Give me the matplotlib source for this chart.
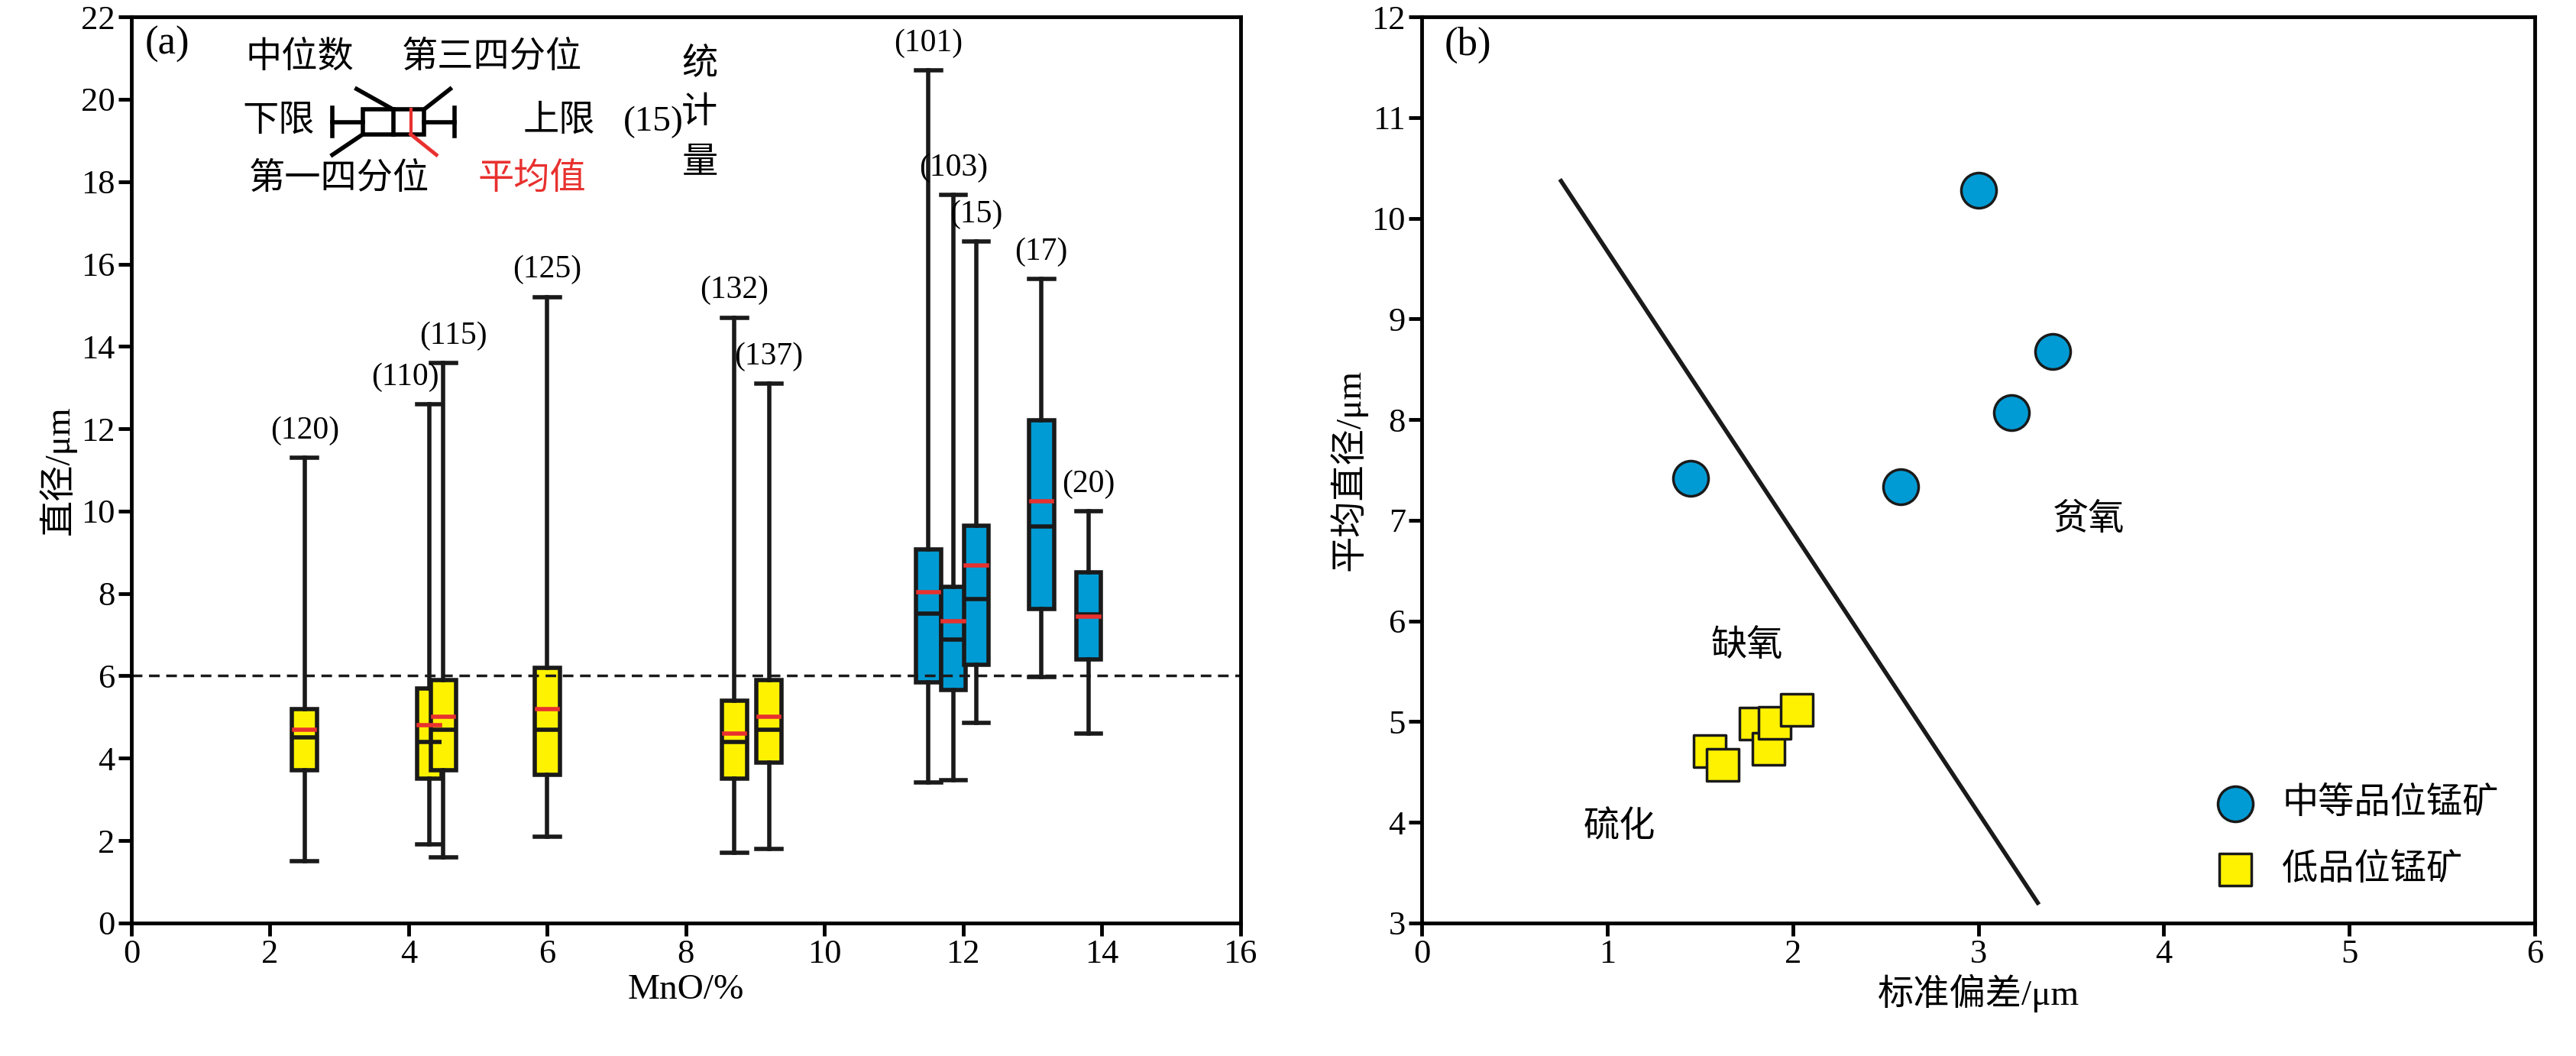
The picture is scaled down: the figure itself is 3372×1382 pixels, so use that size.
import matplotlib
matplotlib.use("Agg")
import matplotlib.pyplot as plt

plt.rcParams['font.family'] = ['Liberation Serif', 'Noto Sans CJK SC']
plt.rcParams['font.size'] = 34

# Panel (a) data
pos = [2.5, 4.3, 4.5, 6.0, 8.7, 9.2, 11.5, 11.86, 12.19, 13.13, 13.81]
wlo = [1.5, 1.9, 1.6, 2.1, 1.7, 1.8, 3.41, 3.46, 4.86, 5.98, 4.60]
q1 = [3.7, 3.5, 3.7, 3.6, 3.5, 3.9, 5.84, 5.66, 6.26, 7.62, 6.40]
med = [4.5, 4.4, 4.7, 4.7, 4.4, 4.7, 7.51, 6.88, 7.87, 9.63, 7.50]
q3 = [5.2, 5.7, 5.9, 6.2, 5.4, 5.9, 9.07, 8.17, 9.65, 12.2, 8.52]
whi = [11.3, 12.6, 13.6, 15.2, 14.7, 13.1, 20.7, 17.68, 16.54, 15.63, 9.99]
mean = [4.7, 4.8, 5.0, 5.2, 4.6, 5.0, 8.03, 7.32, 8.68, 10.23, 7.44]
counts = [120, 110, 115, 125, 132, 137, 101, 103, 15, 17, 20]
grade = ['low'] * 6 + ['mid'] * 5

# Panel (b) data
mid_sd = [1.45, 2.58, 3.0, 3.18, 3.4]
mid_mean = [7.42, 7.33, 10.28, 8.07, 8.68]
low_sd = [1.55, 1.62, 1.8, 1.87, 1.9, 2.02]
low_mean = [4.71, 4.57, 4.98, 4.73, 4.99, 5.12]
line_x = [0.75, 3.32]
line_y = [10.37, 3.2]

BLUE = '#009bd4'
YELLOW = '#fff200'
RED = '#e8312f'
LW = 4

fig = plt.figure(figsize=(33.72, 13.82), dpi=100)
ax1 = fig.add_axes([0.051, 0.126, 0.4305, 0.858])
ax2 = fig.add_axes([0.552, 0.126, 0.432, 0.858])

stats = []
for i in range(len(pos)):
    stats.append(dict(whislo=wlo[i], q1=q1[i], med=med[i], q3=q3[i], whishi=whi[i], mean=mean[i], fliers=[]))
bp = ax1.bxp(stats, positions=pos, widths=0.36, patch_artist=True, showmeans=False,
             boxprops=dict(linewidth=LW, edgecolor='#1a1a1a'),
             medianprops=dict(color='#1a1a1a', linewidth=LW),
             whiskerprops=dict(color='#1a1a1a', linewidth=LW),
             capprops=dict(color='#1a1a1a', linewidth=LW),
             capwidths=0.36, manage_ticks=False)
for p, g in zip(bp['boxes'], grade):
    p.set_facecolor(BLUE if g == 'mid' else YELLOW)
offs = {1: -0.35, 2: 0.15}
for i in range(len(pos)):
    ax1.plot([pos[i] - 0.15, pos[i] + 0.15], [mean[i], mean[i]], color=RED, lw=LW, zorder=5)
    ax1.text(pos[i] + offs.get(i, 0), whi[i] + 0.3, f'({counts[i]})', ha='center', va='bottom', fontsize=30)
ax1.axhline(6, color='#1a1a1a', ls='--', lw=2.5, dashes=(4, 2.5))
ax1.set_xlim(0, 16)
ax1.set_ylim(0, 22)
ax1.set_xticks(range(0, 17, 2))
ax1.set_yticks(range(0, 23, 2))
ax1.set_xlabel('MnO/%')
ax1.set_ylabel('直径/μm')
ax1.text(0.2, 21.1, '(a)', fontsize=38)

# inset legend
ly = 19.45
h = 0.3
ax1.plot([2.9, 3.34], [ly, ly], color='k', lw=LW)
ax1.plot([4.22, 4.66], [ly, ly], color='k', lw=LW)
ax1.plot([2.9, 2.9], [ly - 0.35, ly + 0.35], color='k', lw=LW)
ax1.plot([4.66, 4.66], [ly - 0.35, ly + 0.35], color='k', lw=LW)
ax1.add_patch(plt.Rectangle((3.34, ly - h), 0.88, 2 * h, fill=False, lw=LW, ec='k'))
ax1.plot([3.78, 3.78], [ly - h, ly + h], color='k', lw=LW)
ax1.plot([4.03, 4.03], [ly - h, ly + h], color=RED, lw=3)
ax1.plot([3.25, 3.78], [20.25, ly + h], color='k', lw=LW)
ax1.plot([4.22, 4.6], [ly + h, 20.25], color='k', lw=LW)
ax1.plot([2.9, 3.34], [18.65, ly - h], color='k', lw=LW)
ax1.plot([4.03, 4.4], [ly - h, 18.65], color=RED, lw=3.5)
ax1.text(1.65, 21.0, '中位数', va='center')
ax1.text(3.9, 21.0, '第三四分位', va='center')
ax1.text(1.6, 19.45, '下限', va='center')
ax1.text(5.65, 19.45, '上限', va='center')
ax1.text(1.7, 18.05, '第一四分位', va='center')
ax1.text(5.0, 18.05, '平均值', va='center', color=RED)
ax1.text(7.1, 19.45, '(15)', va='center')
for t, yy in zip(['统', '计', '量'], [20.85, 19.65, 18.45]):
    ax1.text(8.2, yy, t, ha='center', va='center')

# panel b
ax2.plot(line_x, line_y, color='#1a1a1a', lw=4)
ax2.scatter(mid_sd, mid_mean, s=1100, c=BLUE, edgecolors='#1a1a1a', linewidths=2.5, zorder=3, label='中等品位锰矿')
ax2.scatter(low_sd, low_mean, s=950, c=YELLOW, marker='s', edgecolors='#1a1a1a', linewidths=2.5, zorder=3, label='低品位锰矿')
ax2.set_xlim(0, 6)
ax2.set_ylim(3, 12)
ax2.set_xticks(range(0, 7))
ax2.set_yticks(range(3, 13))
ax2.set_xlabel('标准偏差/μm')
ax2.set_ylabel('平均直径/μm')
ax2.text(0.12, 11.72, '(b)', fontsize=38, va='center')
ax2.text(3.4, 7.0, '贫氧', va='center')
ax2.text(1.56, 5.75, '缺氧', va='center')
ax2.text(0.87, 3.95, '硫化', va='center')
ax2.legend(loc='lower right', frameon=False, handletextpad=0.3, borderaxespad=0.6, labelspacing=0.9)

for ax in (ax1, ax2):
    for s in ax.spines.values():
        s.set_linewidth(3.5)
    ax.tick_params(width=3.5, length=12, labelsize=32)

fig.savefig('out.png', dpi=100)
